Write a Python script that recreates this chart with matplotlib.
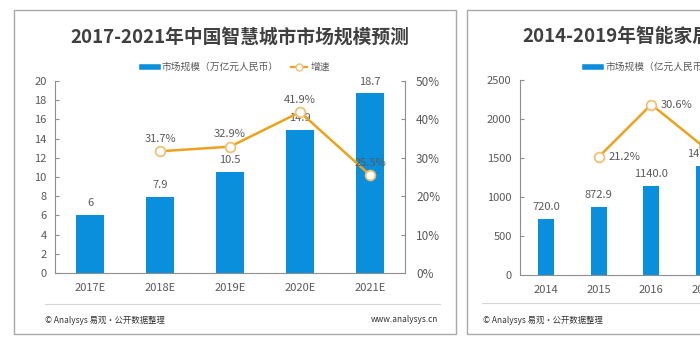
import matplotlib
matplotlib.use("Agg")
import matplotlib.pyplot as plt
from matplotlib.lines import Line2D
from matplotlib.patches import Rectangle
from matplotlib.ticker import FuncFormatter

plt.rcParams['font.family'] = ['Noto Sans CJK SC', 'DejaVu Sans']

# ---------------- data ----------------
title_left = "2017-2021年中国智慧城市市场规模预测"
legend_left = ["市场规模（万亿元人民币）", "增速"]
cats_left = ["2017E", "2018E", "2019E", "2020E", "2021E"]
size_left = [6, 7.9, 10.5, 14.9, 18.7]
growth_cats_left = ["2018E", "2019E", "2020E", "2021E"]
growth_left = [31.7, 32.9, 41.9, 25.5]

title_right = "2014-2019年智能家居市场规模及预测"
legend_right = ["市场规模（亿元人民币）", "增速"]
cats_right = ["2014", "2015", "2016", "2017", "2018", "2019"]
size_right = [720.0, 872.9, 1140.0, 1402.0]
growth_cats_right = ["2015", "2016", "2017"]
growth_right = [21.2, 30.6, 23.0]

source_text = "© Analysys 易观·公开数据整理"
site_text = "www.analysys.cn"

# ---------------- style ----------------
BLUE = "#0a8fdc"
ORANGE = "#eca21c"
MEDGE = "#f0c077"
TXT = "#595959"
SPINE = "#8f8f8f"
W, H = 700, 350

fig = plt.figure(figsize=(7, 3.5), dpi=100)
fig.patch.set_facecolor("white")


def fx(x):
    return x / W


def fy(y):
    return 1 - y / H


def rect(x0, y0, x1, y1):
    return [fx(x0), fy(y1), fx(x1 - x0), (y1 - y0) / H]


# panel frames
for (x0, y0, x1, y1) in [(14, 10, 456, 334), (467, 10, 930, 334)]:
    fig.patches.append(Rectangle((fx(x0), fy(y1)), fx(x1 - x0), (y1 - y0) / H,
                                 transform=fig.transFigure, fill=False,
                                 edgecolor="#a9a9a9", linewidth=1.0, zorder=0))
# separators
fig.add_artist(Line2D([fx(45), fx(440)], [fy(304), fy(304)], transform=fig.transFigure,
                      color="#d6d6d6", lw=0.8))
fig.add_artist(Line2D([fx(482), fx(900)], [fy(303), fy(303)], transform=fig.transFigure,
                      color="#d6d6d6", lw=0.8))

# titles
fig.text(fx(240), fy(37), title_left, ha="center", va="center", fontsize=13.5,
         fontweight="bold", color="#404040")
fig.text(fx(522), fy(36), title_right, ha="left", va="center", fontsize=13.5,
         fontweight="bold", color="#404040")

# footers
fig.text(fx(45), fy(320), source_text, ha="left", va="center", fontsize=6, color="#333333")
fig.text(fx(438), fy(320), site_text, ha="right", va="center", fontsize=6, color="#333333")
fig.text(fx(483), fy(320), source_text, ha="left", va="center", fontsize=6, color="#333333")


def style_axes(ax, ax2, show_right=True):
    for s in ["top"]:
        ax.spines[s].set_visible(False)
        ax2.spines[s].set_visible(False)
    ax2.spines["left"].set_visible(False)
    ax2.spines["bottom"].set_visible(False)
    ax.spines["right"].set_visible(False)
    for s in ["left", "bottom"]:
        ax.spines[s].set_color(SPINE)
        ax.spines[s].set_linewidth(0.8)
    ax2.spines["right"].set_color(SPINE)
    ax2.spines["right"].set_linewidth(0.8)
    ax2.spines["right"].set_visible(show_right)
    ax.tick_params(axis="y", direction="in", length=3, color=SPINE, labelsize=8,
                   labelcolor=TXT, pad=6)
    ax.tick_params(axis="x", length=0, labelsize=8, labelcolor=TXT, pad=7)
    ax2.tick_params(axis="y", direction="in", length=3, color=SPINE, labelsize=8.5,
                    labelcolor=TXT, pad=8)
    ax.set_facecolor("none")


pct = FuncFormatter(lambda v, p: f"{v:.0f}%")

# ---------------- left chart ----------------
axL = fig.add_axes(rect(55, 81, 405, 273))
axL2 = axL.twinx()
barsL = axL.bar(cats_left, size_left, width=0.39, color=BLUE, zorder=2)
axL.bar_label(barsL, labels=[f"{v:g}" for v in size_left], padding=5, fontsize=8, color=TXT)
axL.set_xlim(-0.5, len(cats_left) - 0.5)
axL.set_ylim(0, 20)
axL.set_yticks(range(0, 21, 2))
axL2.plot(growth_cats_left, growth_left, color=ORANGE, lw=1.8, marker="o", ms=7,
          mfc="white", mec=MEDGE, mew=1.3, zorder=3)
for c, g in zip(growth_cats_left, growth_left):
    axL2.annotate(f"{g:.1f}%", (c, g), xytext=(0, 9), textcoords="offset points",
                  ha="center", va="center", fontsize=8, color=TXT)
axL2.set_ylim(0, 50)
axL2.set_yticks(range(0, 51, 10))
axL2.yaxis.set_major_formatter(pct)
style_axes(axL, axL2)
axL2.set_xlim(-0.5, len(cats_left) - 0.5)

fig.legend(handles=[Line2D([], [], color=BLUE, lw=4),
                    Line2D([], [], color=ORANGE, lw=1.6, marker="o", ms=5,
                           mfc="white", mec=MEDGE)],
           labels=legend_left, loc="center", bbox_to_anchor=(fx(236), fy(67)),
           ncol=2, frameon=False, fontsize=7, handlelength=1.7, handletextpad=0.4,
           columnspacing=1.2, labelcolor=TXT)

# ---------------- right chart ----------------
axR = fig.add_axes(rect(520, 80, 835, 275))
axR2 = axR.twinx()
barsR = axR.bar(cats_right[:len(size_right)], size_right, width=0.3, color=BLUE, zorder=2)
axR.bar_label(barsR, labels=[f"{v:.1f}" for v in size_right], padding=5, fontsize=8,
              color=TXT)
axR.set_xticks(range(len(cats_right)))
axR.set_xticklabels(cats_right)
axR.set_xlim(-0.5, len(cats_right) - 0.5)
axR.set_ylim(0, 2500)
axR.set_yticks(range(0, 2501, 500))
x_idx = [cats_right.index(c) for c in growth_cats_right]
axR2.plot(x_idx, growth_right, color=ORANGE, lw=1.8, marker="o", ms=7,
          mfc="white", mec=MEDGE, mew=1.3, zorder=3)
for xi, g in zip(x_idx, growth_right):
    axR2.annotate(f"{g:.1f}%", (xi, g), xytext=(7, 0), textcoords="offset points",
                  ha="left", va="center", fontsize=8, color=TXT)
axR2.set_ylim(0, 35)
axR2.yaxis.set_major_formatter(pct)
style_axes(axR, axR2)
axR2.set_xlim(-0.5, len(cats_right) - 0.5)

fig.legend(handles=[Line2D([], [], color=BLUE, lw=4),
                    Line2D([], [], color=ORANGE, lw=1.6, marker="o", ms=5,
                           mfc="white", mec=MEDGE)],
           labels=legend_right, loc="center left", bbox_to_anchor=(fx(576), fy(67)),
           ncol=2, frameon=False, fontsize=7, handlelength=1.7, handletextpad=0.4,
           columnspacing=1.2, labelcolor=TXT)

fig.savefig("out.png", dpi=100)
